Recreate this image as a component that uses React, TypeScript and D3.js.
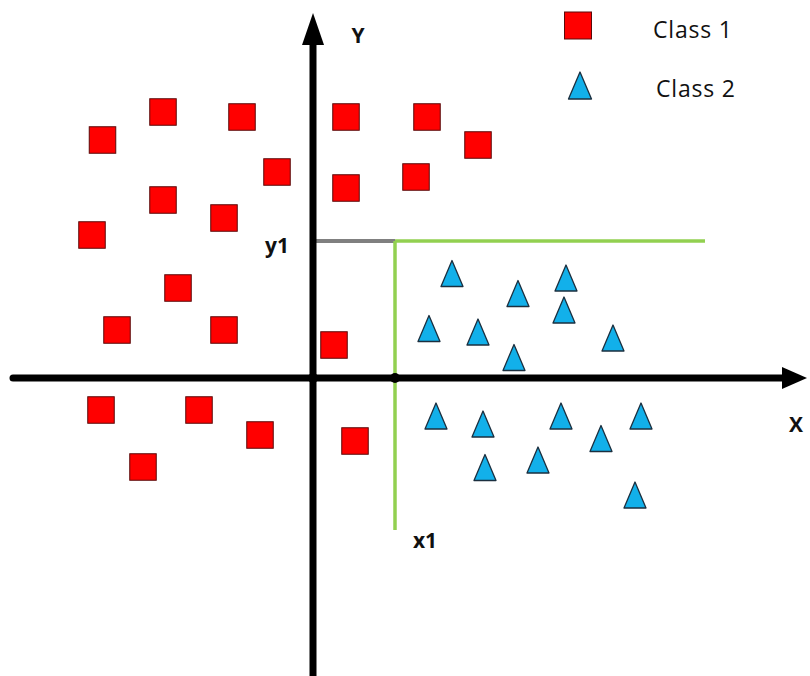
import React from "react";
import * as d3 from "d3";

// Class 1 points (red squares)
const class1X = [-21.05, -15.0, -7.1, 3.3, 11.4, 16.5, -3.6, 3.3, 10.3, -15.0, -8.9, -22.1, -13.5, -19.6, -8.9, 2.1, -21.2, -11.4, -5.3, 4.2, -17.0];
const class1Y = [23.8, 26.6, 26.1, 26.1, 26.1, 23.3, 20.6, 19.0, 20.1, 17.8, 16.0, 14.3, 9.0, 4.8, 4.8, 3.3, -3.2, -3.2, -5.7, -6.3, -8.9];

// Class 2 points (blue triangles)
const class2X = [13.9, 20.5, 25.3, 25.1, 11.6, 16.5, 30.0, 20.1, 12.3, 17.0, 24.8, 32.8, 28.8, 17.2, 22.5, 32.2];
const class2Y = [10.45, 8.45, 10.0, 6.8, 4.95, 4.6, 4.0, 2.05, -3.8, -4.6, -3.8, -3.8, -6.05, -8.95, -8.2, -11.7];

// Decision thresholds
const x1 = 8.2;
const y1 = 13.7;
const thresholdXEnd = 39.2;
const thresholdYEnd = -15.2;

const legendLabels = ["Class 1", "Class 2"];
const axisLabels = { x: "X", y: "Y", x1: "x1", y1: "y1" };

const W = 810;
const H = 676;

const RED = "#ff0000";
const BLUE = "#12b0ea";
const GREEN = "#92d050";
const GRAY = "#808080";

export default function App() {
  const x = d3.scaleLinear().domain([-30, 49.7]).range([13, 810]);
  const y = d3.scaleLinear().domain([-29.8, 36.5]).range([676, 13]);

  const ox = x(0);
  const oy = y(0);
  const sq = 26.5;
  const triW = 22;
  const triH = 26;

  const tri = (cx: number, cy: number, w: number, h: number) =>
    `M${cx},${cy - h / 2} L${cx + w / 2},${cy + h / 2} L${cx - w / 2},${cy + h / 2} Z`;

  const font = "'Open Sans', 'DejaVu Sans', sans-serif";

  return (
    <svg
      width={W}
      height={H}
      style={{ position: "fixed", left: 0, top: 0, background: "#fff" }}
    >
      {/* threshold lines */}
      <line x1={ox} y1={y(y1)} x2={x(x1)} y2={y(y1)} stroke={GRAY} strokeWidth={4} />
      <line x1={x(x1)} y1={y(y1)} x2={x(thresholdXEnd)} y2={y(y1)} stroke={GREEN} strokeWidth={3.5} />
      <line x1={x(x1)} y1={y(y1)} x2={x(x1)} y2={y(thresholdYEnd)} stroke={GREEN} strokeWidth={3.5} />

      {/* axes */}
      <line x1={x(-30)} y1={oy} x2={x(47)} y2={oy} stroke="#000" strokeWidth={7} strokeLinecap="round" />
      <path d={`M${x(46.9)},${oy - 11} L${x(49.4)},${oy} L${x(46.9)},${oy + 11} Z`} fill="#000" />
      <line x1={ox} y1={y(-29.8)} x2={ox} y2={y(33.5)} stroke="#000" strokeWidth={7} />
      <path d={`M${ox - 11},${y(33.3)} L${ox},${y(36.5)} L${ox + 11},${y(33.3)} Z`} fill="#000" />
      <circle cx={ox} cy={oy} r={5} fill="#000" />
      <circle cx={x(x1)} cy={oy} r={5} fill="#000" />

      {/* class 1 */}
      {class1X.map((v, i) => (
        <rect
          key={`c1-${i}`}
          x={x(v) - sq / 2}
          y={y(class1Y[i]) - sq / 2}
          width={sq}
          height={sq}
          fill={RED}
          stroke="#5a0a0a"
          strokeWidth={1}
        />
      ))}

      {/* class 2 */}
      {class2X.map((v, i) => (
        <path
          key={`c2-${i}`}
          d={tri(x(v), y(class2Y[i]), triW, triH)}
          fill={BLUE}
          stroke="#1b2f3f"
          strokeWidth={1.3}
          strokeLinejoin="round"
        />
      ))}

      {/* axis labels */}
      <g fontFamily={font} fontWeight="bold" fontSize={21} fill="#111">
        <text x={358} y={43} textAnchor="middle">{axisLabels.y}</text>
        <text x={796} y={432} textAnchor="middle">{axisLabels.x}</text>
        <text x={277} y={253} textAnchor="middle">{axisLabels.y1}</text>
        <text x={425} y={548} textAnchor="middle">{axisLabels.x1}</text>
      </g>

      {/* legend */}
      <rect x={578 - 13.5} y={12} width={27} height={27} fill={RED} stroke="#5a0a0a" strokeWidth={1} />
      <path d={tri(580, 85.5, 23, 27)} fill={BLUE} stroke="#1b2f3f" strokeWidth={1.3} strokeLinejoin="round" />
      <g fontFamily={font} fontSize={23} fill="#111">
        <text x={653} y={38} textLength={79} lengthAdjust="spacing">{legendLabels[0]}</text>
        <text x={656} y={97} textLength={79} lengthAdjust="spacing">{legendLabels[1]}</text>
      </g>
    </svg>
  );
}
